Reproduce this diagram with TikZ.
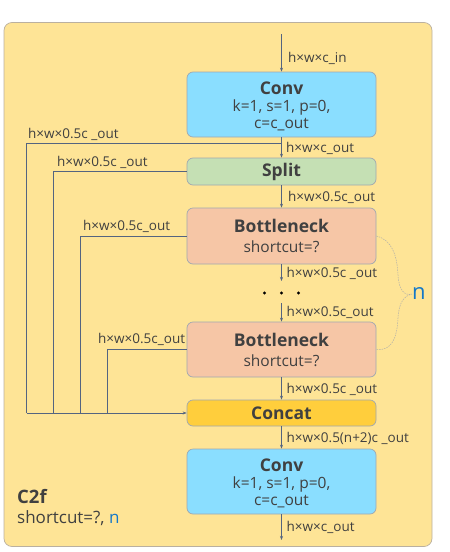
\documentclass[tikz,border=0pt]{standalone}
\usepackage{fontspec}
\setmainfont{Open Sans}
\usetikzlibrary{arrows.meta}
\definecolor{bgy}{RGB}{254,228,150}
\definecolor{bgb}{RGB}{186,176,160}
\definecolor{convc}{RGB}{138,222,255}
\definecolor{splitc}{RGB}{197,224,180}
\definecolor{botc}{RGB}{246,198,166}
\definecolor{catc}{RGB}{255,206,60}
\definecolor{boxb}{RGB}{160,168,176}
\definecolor{txt}{RGB}{64,64,64}
\definecolor{ln}{RGB}{84,100,128}
\definecolor{nblue}{RGB}{20,120,200}
\definecolor{brc}{RGB}{178,176,168}
\newcommand\mytitlefont{\fontsize{17.5}{19}\selectfont\bfseries}
\tikzset{
  x=1pt,y=-1pt,
  blk/.style={draw=boxb,line width=0.7pt,rounded corners=6pt,minimum width=189pt,align=center,text=txt,inner sep=0pt,font=\fontsize{15.5}{17}\selectfont},
  lbl/.style={anchor=west,text=txt,inner sep=0pt,font=\fontsize{13.5}{15}\selectfont},
  conn/.style={draw=ln,line width=0.6pt},
  arr/.style={conn,-{Stealth[length=4pt,width=3pt]}},
}
\begin{document}
\begin{tikzpicture}
\useasboundingbox (0,0) rectangle (450,552);
\node[draw=bgb,fill=bgy,line width=0.7pt,rounded corners=8pt,minimum width=428pt,minimum height=524pt,inner sep=0pt] (frame) at (218,284.5) {};
% boxes
\node[blk,fill=convc,minimum height=65pt] (conv1) at (281.5,104.5) {{\mytitlefont\rule{0pt}{17pt}Conv}\\k=1, s=1, p=0,\\c=c\_out};
\node[blk,fill=splitc,minimum height=27pt] (split) at (281.5,171.5) {\mytitlefont Split};
\node[blk,fill=botc,minimum height=56pt] (b1) at (281.5,236) {{\mytitlefont Bottleneck}\\[3pt]shortcut=?};
\node[blk,fill=botc,minimum height=55pt] (b2) at (281.5,349.5) {{\mytitlefont Bottleneck}\\[3pt]shortcut=?};
\node[blk,fill=catc,minimum height=26pt] (concat) at (281.5,413) {\mytitlefont Concat};
\node[blk,fill=convc,minimum height=65pt] (conv2) at (281.5,481.5) {{\mytitlefont\rule{0pt}{17pt}Conv}\\k=1, s=1, p=0,\\c=c\_out};
% dots
\foreach \i/\xx in {1/264.5,2/281.5,3/298.5}
  \node[circle,fill=black,inner sep=0pt,minimum size=3.4pt] (d\i) at (\xx,293) {};
% coordinates
\coordinate (in) at (281.5,34);
\coordinate (out) at (281.5,540);
\coordinate (d2t) at (281.5,281);
\coordinate (d2b) at (281.5,303);
\coordinate (br0) at (281.5,143);
\coordinate (l0) at (26.5,413);
\coordinate (l1) at (53,413);
\coordinate (l2) at (80,413);
\coordinate (l3) at (107,413);
% main arrows
\draw[arr] (in) -- (conv1.north);
\draw[arr] (conv1.south) -- (split.north);
\draw[arr] (split.south) -- (b1.north);
\draw[arr] (b1.south) -- (d2t);
\draw[arr] (d2b) -- (b2.north);
\draw[arr] (b2.south) -- (concat.north);
\draw[arr] (concat.south) -- (conv2.north);
\draw[arr] (conv2.south) -- (out);
% branches
\draw[conn] (br0) -| (l0);
\draw[conn] (split.west) -| (l1);
\draw[conn] (b1.west) -| (l2);
\draw[conn] (b2.west) -| (l3);
\draw[arr] (l0) -- (concat.west);
% labels
\node[lbl] (t1) at (288,58) {h×w×c\_in};
\node[lbl] (t2) at (286,148) {h×w×c\_out};
\node[lbl] (t3) at (28,134) {h×w×0.5c \_out};
\node[lbl] (t4) at (57,162) {h×w×0.5c \_out};
\node[lbl] (t5) at (288,197) {h×w×0.5c\_out};
\node[lbl] (t6) at (83,226) {h×w×0.5c\_out};
\node[lbl] (t7) at (286.5,273) {h×w×0.5c \_out};
\node[lbl] (t8) at (286.5,312) {h×w×0.5c\_out};
\node[lbl] (t9) at (98,339) {h×w×0.5c\_out};
\node[lbl] (t10) at (286.5,389) {h×w×0.5c \_out};
\node[lbl] (t11) at (286.5,438) {h×w×0.5(n+2)c \_out};
\node[lbl] (t12) at (286.5,527) {h×w×c\_out};
% C2f
\node[anchor=west,inner sep=0pt,text=txt,font=\fontsize{18.5}{20}\selectfont\bfseries] (c2f) at (17,497) {C2f};
\node[anchor=west,inner sep=0pt,text=txt,font=\fontsize{17}{19}\selectfont] (sc) at (17,518) {shortcut=?, \textcolor{nblue}{n}};
% brace
\node[anchor=west,inner sep=0pt,text=nblue,font=\fontsize{22}{24}\selectfont] (n) at (412,294) {n};
\draw[draw=brc,dash pattern=on 1.5pt off 1pt,line width=0.5pt]
  (b1.east) .. controls (392,240) and (397,255) .. (398,275)
  .. controls (399,290) and (404,296) .. (n.west)
  .. controls (404,296) and (399,302) .. (398,318)
  .. controls (397,338) and (392,351) .. (b2.east);
\end{tikzpicture}
\end{document}
